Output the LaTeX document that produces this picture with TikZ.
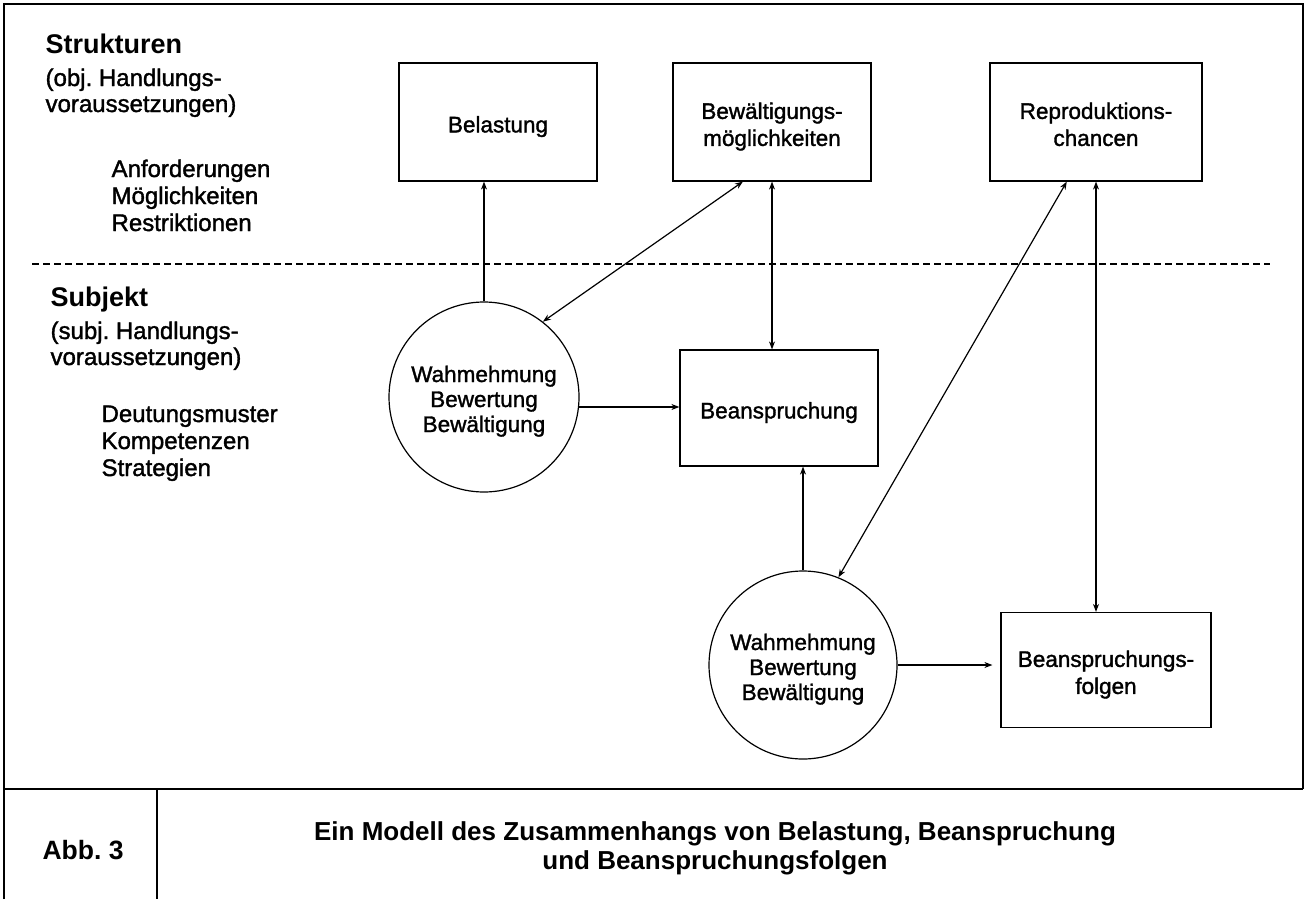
\documentclass[tikz,border=0pt]{standalone}
\usepackage{fontspec}
\setmainfont{Liberation Sans}
\newfontfamily\heavysans{Liberation Sans}[FakeBold=1.5]
\usetikzlibrary{arrows.meta,calc}
% text set lower in its shape, reporting its natural size
\newcommand\dropped[1]{\raisebox{-5pt}[\height][\depth]{\begin{tabular}{@{}c@{}}#1\end{tabular}}}
\frenchspacing
\begin{document}
\begin{tikzpicture}[x=1pt,y=-1pt,
  line width=1.2pt,
  boxfont/.style={font=\heavysans\fontsize{22.5}{27}\selectfont},
  box/.style={draw, rectangle, inner sep=0pt, align=center, boxfont},
  disc/.style={draw, circle, inner sep=0pt, minimum size=190pt, align=center,
               font=\heavysans\fontsize{22.5}{25}\selectfont},
  lbl/.style={anchor=base west, inner sep=0pt, font=\heavysans\fontsize{24}{27}\selectfont},
  head/.style={anchor=base west, inner sep=0pt, font=\bfseries\fontsize{27}{30}\selectfont},
  capt/.style={anchor=base, inner sep=0pt, font=\bfseries\fontsize{26}{30}\selectfont},
  arr/.style={-{Stealth[length=8pt,width=6pt]}},
  arrs/.style={{Stealth[length=8pt,width=6pt]}-{Stealth[length=8pt,width=6pt]}}
]
\useasboundingbox (0,0) rectangle (1305,899);

% frame and caption cells
\draw[line width=1.4pt] (4,899) -- (4,4) -- (1303,4) -- (1303,789);
\draw[line width=1.4pt] (4,789) -- (1303,789);
\draw[line width=1.2pt] (157,789) -- (157,899);

% boundary between structures and subject
\draw[line width=1.1pt, dash pattern=on 7pt off 4pt] (32,264) -- (1270,264);

% left-hand labels
\node[head] (strk) at (45,53) {Strukturen};
\node[lbl] (obj1) at (45,86) {(obj. Handlungs-};
\node[lbl] (obj2) at (45,112) {voraussetzungen)};
\node[lbl] (anf) at (111,177) {Anforderungen};
\node[lbl] (moe) at (111,204) {Möglichkeiten};
\node[lbl] (res) at (111,231) {Restriktionen};

\node[head] (subj) at (50,306) {Subjekt};
\node[lbl] (sub1) at (50,339) {(subj. Handlungs-};
\node[lbl] (sub2) at (50,365) {voraussetzungen)};
\node[lbl] (deu) at (101,422) {Deutungsmuster};
\node[lbl] (kom) at (101,449) {Kompetenzen};
\node[lbl] (str) at (101,476) {Strategien};

% boxes
\node[box, minimum width=198pt, minimum height=118pt] (bel) at (498,122) {\dropped{Belastung}};
\node[box, minimum width=198pt, minimum height=118pt] (bew) at (772,122) {\dropped{Bewältigungs-\\möglichkeiten}};
\node[box, minimum width=212pt, minimum height=118pt] (rep) at (1096,122) {\dropped{Reproduktions-\\chancen}};
\node[box, minimum width=198pt, minimum height=116pt] (bea) at (779,408) {\dropped{Beanspruchung}};
\node[box, minimum width=210pt, minimum height=115pt] (bf) at (1106,670) {\dropped{Beanspruchungs-\\folgen}};

% circles
\node[disc] (c1) at (484,397) {\dropped{Wahmehmung\\Bewertung\\Bewältigung}};
\node[disc, minimum size=188pt] (c2) at (803,665) {\dropped{Wahmehmung\\Bewertung\\Bewältigung}};

% connectors
\draw[arr] (c1.north) -- (c1.north |- bel.south);
\draw[arrs] ($(bew.south west)!0.354!(bew.south east)$) -- (c1.52);
\draw[arrs] (bew.south) -- (bew.south |- bea.north);
\draw[arr] (c1.-6) -- (c1.-6 -| bea.west);
\draw[arr] (c2.north) -- (c2.north |- bea.south);
\draw[arrs] ($(rep.south west)!0.363!(rep.south east)$) -- (c2.68);
\draw[arrs] (rep.south) -- (rep.south |- bf.north);
\draw[arr, shorten >=8pt] (c2.east) -- (c2.east -| bf.west);

% caption
\node[anchor=base west, inner sep=0pt, font=\bfseries\fontsize{26.5}{30}\selectfont] (abb) at (42,859) {Abb. 3};
\node[capt] (cap1) at (715,840) {Ein Modell des Zusammenhangs von Belastung, Beanspruchung};
\node[capt] (cap2) at (715,869) {und Beanspruchungsfolgen};
\end{tikzpicture}
\end{document}
